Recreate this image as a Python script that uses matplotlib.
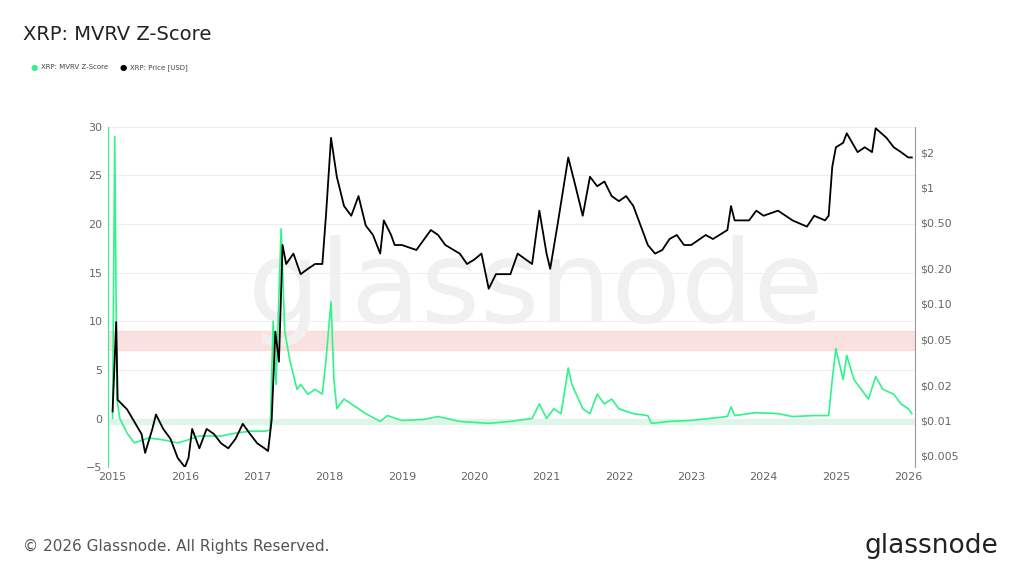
import matplotlib.pyplot as plt
import matplotlib.ticker as mticker

# MVRV Z-Score (decimal year, value)
z_years = [2015.0, 2015.03, 2015.06, 2015.1, 2015.2, 2015.3, 2015.5, 2015.7, 2015.9, 2016.0,
           2016.2, 2016.5, 2016.7, 2016.9, 2017.1, 2017.18, 2017.22, 2017.26, 2017.33, 2017.38,
           2017.45, 2017.55, 2017.6, 2017.7, 2017.8, 2017.9, 2017.95, 2018.02, 2018.06, 2018.1,
           2018.2, 2018.3, 2018.4, 2018.5, 2018.7, 2018.8, 2019.0, 2019.3, 2019.5, 2019.8,
           2020.2, 2020.5, 2020.8, 2020.9, 2021.0, 2021.1, 2021.2, 2021.3, 2021.35, 2021.5,
           2021.6, 2021.7, 2021.8, 2021.9, 2022.0, 2022.2, 2022.4, 2022.45, 2022.7, 2023.0,
           2023.5, 2023.55, 2023.6, 2023.9, 2024.2, 2024.4, 2024.7, 2024.9, 2024.95, 2025.0,
           2025.1, 2025.15, 2025.25, 2025.35, 2025.45, 2025.55, 2025.65, 2025.8, 2025.9, 2026.0, 2026.05]
z_values = [0, 29, 2, 0, -1.5, -2.5, -2, -2.2, -2.5, -2.3,
            -1.8, -1.8, -1.5, -1.3, -1.3, -1.2, 10, 3.5, 19.5, 9,
            6, 3, 3.5, 2.5, 3, 2.5, 6, 12, 4, 1,
            2, 1.5, 1, 0.5, -0.3, 0.3, -0.2, -0.1, 0.2, -0.3,
            -0.5, -0.3, 0, 1.5, 0, 1, 0.5, 5.2, 3.5, 1,
            0.5, 2.5, 1.5, 2, 1, 0.5, 0.3, -0.5, -0.3, -0.2,
            0.2, 1.2, 0.3, 0.6, 0.5, 0.2, 0.3, 0.3, 4, 7.2,
            4, 6.5, 4, 3, 2, 4.3, 3, 2.5, 1.5, 1, 0.5]

# XRP price in USD (decimal year, value)
p_years = [2015.0, 2015.05, 2015.07, 2015.2, 2015.4, 2015.45, 2015.55, 2015.6, 2015.7, 2015.8,
           2015.9, 2016.0, 2016.05, 2016.1, 2016.2, 2016.3, 2016.4, 2016.5, 2016.6, 2016.7,
           2016.8, 2016.9, 2017.0, 2017.1, 2017.15, 2017.2, 2017.25, 2017.3, 2017.35, 2017.4,
           2017.5, 2017.6, 2017.7, 2017.8, 2017.9, 2017.95, 2018.02, 2018.1, 2018.2, 2018.3,
           2018.4, 2018.5, 2018.6, 2018.7, 2018.75, 2018.85, 2018.9, 2019.0, 2019.2, 2019.4,
           2019.5, 2019.6, 2019.8, 2019.9, 2020.0, 2020.1, 2020.2, 2020.3, 2020.5, 2020.6,
           2020.8, 2020.9, 2021.0, 2021.05, 2021.15, 2021.3, 2021.4, 2021.5, 2021.6, 2021.7,
           2021.8, 2021.9, 2022.0, 2022.1, 2022.2, 2022.3, 2022.4, 2022.5, 2022.6, 2022.7,
           2022.8, 2022.9, 2023.0, 2023.2, 2023.3, 2023.5, 2023.55, 2023.6, 2023.8, 2023.9,
           2024.0, 2024.2, 2024.4, 2024.6, 2024.7, 2024.85, 2024.9, 2024.95, 2025.0, 2025.1,
           2025.15, 2025.3, 2025.4, 2025.5, 2025.55, 2025.7, 2025.8, 2025.9, 2026.0, 2026.05]
p_values = [0.012, 0.070, 0.0151, 0.0125, 0.0077, 0.0053, 0.0085, 0.0113, 0.0085, 0.0070,
            0.0048, 0.0040, 0.0048, 0.0085, 0.0058, 0.0085, 0.0077, 0.0064, 0.0058, 0.0070,
            0.0094, 0.0077, 0.0064, 0.0058, 0.0055, 0.0103, 0.058, 0.032, 0.32, 0.22,
            0.27, 0.18, 0.20, 0.22, 0.22, 0.57, 2.65, 1.23, 0.69, 0.57,
            0.84, 0.47, 0.39, 0.27, 0.52, 0.39, 0.32, 0.32, 0.29, 0.43,
            0.39, 0.32, 0.27, 0.22, 0.24, 0.27, 0.135, 0.18, 0.18, 0.27,
            0.22, 0.63, 0.27, 0.20, 0.47, 1.8, 1.02, 0.57, 1.23, 1.02,
            1.12, 0.84, 0.76, 0.84, 0.69, 0.47, 0.32, 0.27, 0.29, 0.36,
            0.39, 0.32, 0.32, 0.39, 0.36, 0.43, 0.69, 0.52, 0.52, 0.63,
            0.57, 0.63, 0.52, 0.46, 0.57, 0.52, 0.57, 1.5, 2.2, 2.4,
            2.9, 2.0, 2.2, 2.0, 3.2, 2.65, 2.2, 2.0, 1.8, 1.8]

year_ticks = list(range(2015, 2027))
price_ticks = [0.005, 0.01, 0.02, 0.05, 0.10, 0.20, 0.50, 1, 2]
price_labels = ["$0.005", "$0.01", "$0.02", "$0.05", "$0.10", "$0.20", "$0.50", "$1", "$2"]

GREEN = "#2ef58a"
fig = plt.figure(figsize=(10.24, 5.76), dpi=100)
ax = fig.add_axes([0.105, 0.189, 0.789, 0.591])

ax.axhspan(7, 9, color="#fbd9d9", alpha=0.8, zorder=0)
ax.axhspan(-0.6, 0, color="#dff5e8", zorder=0)
for y in range(-5, 31, 5):
    ax.axhline(y, color="#eeeeee", linewidth=0.8, zorder=0)

ax.text(0.53, 0.52, "glassnode", transform=ax.transAxes, fontsize=82, color="#f0f0f0",
        ha="center", va="center", zorder=0)

ax.plot(z_years, z_values, color=GREEN, linewidth=1.2, zorder=2)
ax.set_xlim(2014.93, 2026.1)
ax.set_ylim(-5, 30)
ax.set_xticks(year_ticks)
ax.set_yticks(range(-5, 31, 5))
ax.tick_params(colors="#666666", labelsize=8, length=0)
for s in ["top", "right", "bottom"]:
    ax.spines[s].set_visible(False)
ax.spines["left"].set_color(GREEN)

ax2 = ax.twinx()
ax2.plot(p_years, p_values, color="black", linewidth=1.3, zorder=3)
ax2.set_yscale("log")
ax2.set_ylim(0.0040, 3.3)
ax2.yaxis.set_major_locator(mticker.FixedLocator(price_ticks))
ax2.yaxis.set_minor_locator(mticker.NullLocator())
ax2.set_yticklabels(price_labels)
ax2.tick_params(colors="#666666", labelsize=8, length=0)
for s in ["top", "left", "bottom"]:
    ax2.spines[s].set_visible(False)
ax2.spines["right"].set_color("#999999")

fig.text(0.022, 0.94, "XRP: MVRV Z-Score", fontsize=14, color="#222222", va="center")
fig.text(0.03, 0.883, "\u25cf", fontsize=6, color=GREEN, va="center")
fig.text(0.04, 0.883, "XRP: MVRV Z-Score", fontsize=5, color="#444444", va="center")
fig.text(0.117, 0.883, "\u25cf", fontsize=6, color="black", va="center")
fig.text(0.127, 0.883, "XRP: Price [USD]", fontsize=5, color="#444444", va="center")
fig.text(0.022, 0.052, "\u00a9 2026 Glassnode. All Rights Reserved.", fontsize=11, color="#555555", va="center")
fig.text(0.975, 0.052, "glassnode", fontsize=19, color="#222222", va="center", ha="right")

fig.savefig("out.png", dpi=100, facecolor="white")
